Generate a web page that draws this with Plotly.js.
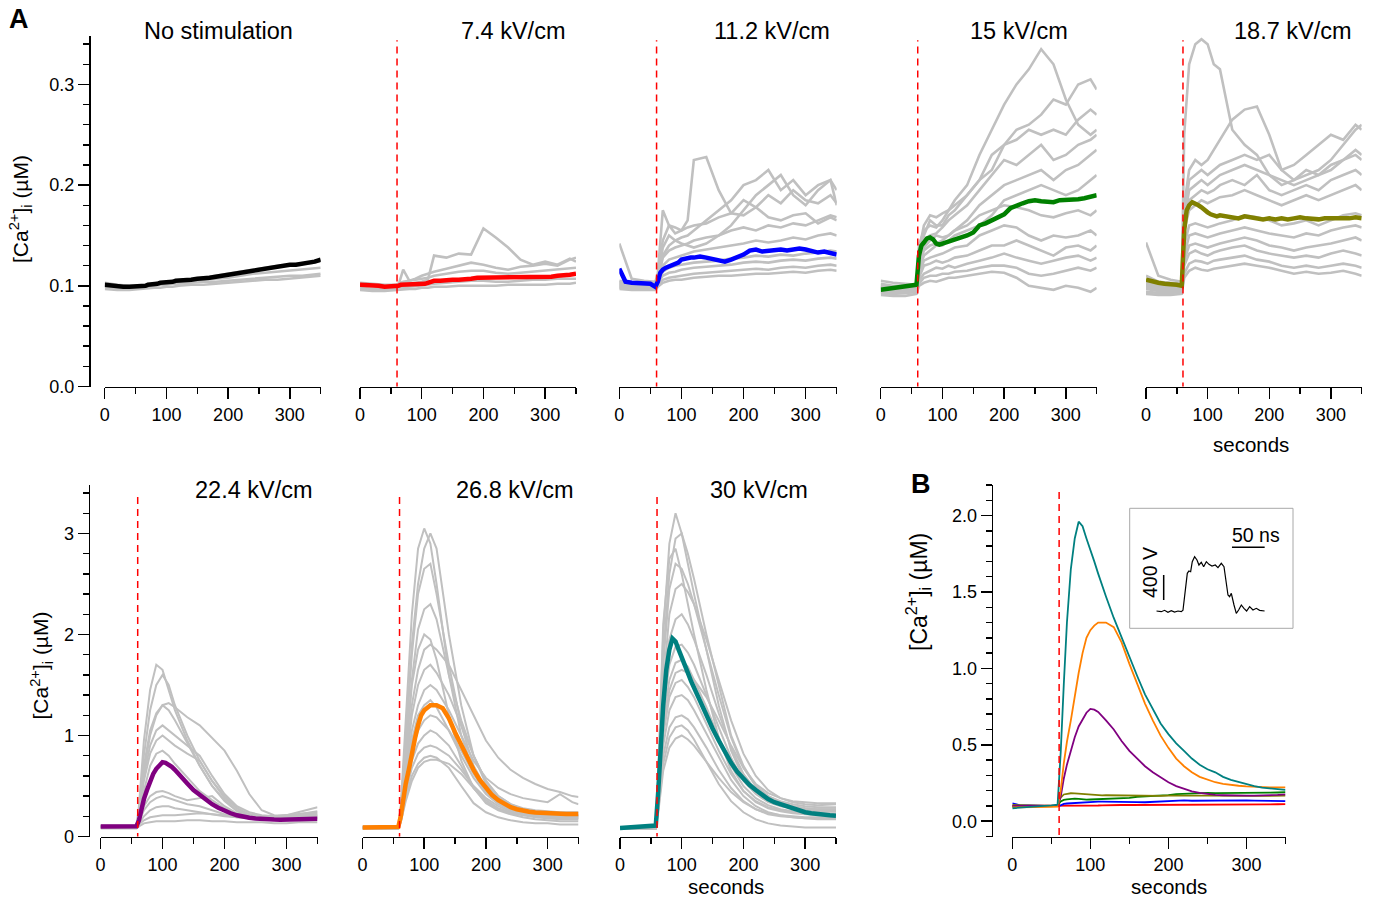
<!DOCTYPE html>
<html><head><meta charset="utf-8">
<script src="https://cdn.plot.ly/plotly-3.0.1.min.js"></script>
<style>html,body{margin:0;padding:0;background:#fff}#chart{width:1373px;height:897px}</style>
</head><body><div id="chart"></div>
<script>
// ---------------- DATA ----------------
const stimTime = 60; // seconds
const panelTitles = ['No stimulation','7.4 kV/cm','11.2 kV/cm','15 kV/cm','18.7 kV/cm','22.4 kV/cm','26.8 kV/cm','30 kV/cm'];

// time grid for mean traces (s)
const t = [0,10,20,30,40,50,
  58,62,66,70,75,80,85,90,95,100,105,110,115,120,
  130,140,150,160,170,180,190,200,210,220,230,240,250,260,270,280,290,300,310,320,330,340,350];
// time grid for individual (gray) cell traces (s)
const tg = [0,20,40,58, 62,70,80,90,100,110,120, 140,160,180,200,220,240,260,280,300,320,340, 350];

// mean [Ca2+]i (uM)
const meanNoStim = [0.101,0.100,0.100,0.099,0.099,0.099,
  0.099,0.100,0.100,0.101,0.101,0.102,0.102,0.103,0.103,0.104,0.104,0.104,0.105,0.105,
  0.106,0.106,0.107,0.107,0.108,0.109,0.110,0.111,0.112,0.113,0.114,0.116,0.117,0.118,0.119,0.119,0.120,0.121,0.121,0.122,0.122,0.124,0.126];
const mean7_4 = [0.101,0.101,0.100,0.100,0.099,0.099,
  0.100,0.100,0.101,0.101,0.101,0.101,0.101,0.101,0.101,0.102,0.102,0.103,0.104,0.105,
  0.105,0.106,0.106,0.106,0.106,0.107,0.108,0.108,0.108,0.108,0.108,0.108,0.108,0.108,0.108,0.109,0.109,0.109,0.109,0.110,0.110,0.111,0.112];
const mean11_2 = [0.117,0.104,0.103,0.103,0.103,0.102,
  0.099,0.104,0.113,0.116,0.118,0.119,0.121,0.122,0.123,0.126,0.127,0.128,0.128,0.128,
  0.129,0.128,0.127,0.125,0.124,0.126,0.128,0.131,0.135,0.136,0.134,0.135,0.135,0.136,0.135,0.136,0.137,0.136,0.135,0.133,0.134,0.133,0.131];
const mean15 = [0.096,0.097,0.098,0.098,0.099,0.100,
  0.101,0.130,0.140,0.143,0.147,0.148,0.146,0.142,0.141,0.142,0.143,0.144,0.145,0.145,
  0.147,0.150,0.153,0.160,0.162,0.165,0.168,0.171,0.177,0.180,0.182,0.184,0.185,0.184,0.184,0.183,0.185,0.185,0.186,0.186,0.187,0.188,0.190];
const mean18_7 = [0.106,0.104,0.103,0.102,0.102,0.101,
  0.100,0.155,0.175,0.180,0.183,0.182,0.180,0.178,0.175,0.173,0.171,0.170,0.169,0.170,
  0.169,0.168,0.167,0.169,0.168,0.167,0.166,0.167,0.166,0.167,0.166,0.167,0.168,0.167,0.166,0.166,0.167,0.167,0.166,0.166,0.167,0.168,0.167];
const mean22_4 = [0.100,0.099,0.100,0.101,0.100,0.101,
  0.102,0.160,0.280,0.370,0.460,0.550,0.620,0.670,0.710,0.735,0.730,0.715,0.690,0.660,
  0.600,0.525,0.460,0.410,0.360,0.320,0.285,0.255,0.230,0.210,0.195,0.185,0.178,0.172,0.170,0.168,0.167,0.167,0.168,0.168,0.170,0.172,0.175];
const mean26_8 = [0.090,0.090,0.091,0.092,0.093,0.094,
  0.095,0.200,0.380,0.520,0.660,0.830,0.970,1.100,1.200,1.250,1.280,1.300,1.300,1.300,
  1.270,1.170,1.030,0.900,0.770,0.660,0.560,0.480,0.410,0.360,0.320,0.290,0.270,0.255,0.245,0.237,0.232,0.228,0.225,0.223,0.222,0.222,0.222];
const mean30 = [0.085,0.088,0.092,0.096,0.100,0.104,
  0.108,0.450,0.900,1.300,1.650,1.850,1.960,1.930,1.850,1.780,1.700,1.620,1.540,1.470,
  1.330,1.200,1.070,0.950,0.830,0.730,0.640,0.570,0.510,0.460,0.410,0.370,0.340,0.320,0.290,0.270,0.255,0.240,0.230,0.220,0.215,0.210,0.205];

// individual cells (gray), on tg
const cellsNoStim = [
 [0.099,0.098,0.097,0.098, 0.098,0.099,0.100,0.101,0.101,0.102,0.102, 0.103,0.104,0.104,0.105,0.106,0.107,0.108,0.109,0.110,0.110,0.111, 0.112],
 [0.103,0.101,0.100,0.100, 0.100,0.101,0.101,0.102,0.103,0.104,0.104, 0.106,0.108,0.110,0.112,0.114,0.116,0.118,0.120,0.121,0.122,0.123, 0.125],
 [0.097,0.096,0.096,0.097, 0.097,0.097,0.098,0.098,0.099,0.099,0.100, 0.101,0.101,0.102,0.103,0.104,0.105,0.106,0.106,0.107,0.108,0.109, 0.110],
 [0.101,0.100,0.099,0.099, 0.099,0.100,0.100,0.101,0.102,0.103,0.103, 0.105,0.106,0.107,0.108,0.110,0.112,0.113,0.114,0.115,0.116,0.117, 0.118]
];
const cells7_4 = [
 [0.102,0.101,0.100,0.100, 0.101,0.102,0.102,0.103,0.104,0.106,0.130, 0.128,0.132,0.131,0.157,0.148,0.138,0.126,0.121,0.124,0.121,0.127, 0.124],
 [0.099,0.100,0.098,0.099, 0.100,0.116,0.105,0.107,0.110,0.112,0.114, 0.117,0.120,0.123,0.121,0.118,0.116,0.119,0.120,0.122,0.120,0.126, 0.128],
 [0.098,0.097,0.097,0.098, 0.098,0.099,0.099,0.100,0.100,0.101,0.102, 0.103,0.104,0.105,0.105,0.104,0.104,0.105,0.106,0.106,0.107,0.107, 0.107],
 [0.096,0.095,0.095,0.096, 0.096,0.096,0.097,0.097,0.098,0.098,0.099, 0.099,0.100,0.100,0.100,0.100,0.101,0.101,0.101,0.101,0.102,0.102, 0.103],
 [0.103,0.102,0.101,0.101, 0.102,0.104,0.105,0.106,0.107,0.108,0.110, 0.112,0.114,0.115,0.115,0.113,0.112,0.113,0.114,0.115,0.116,0.117, 0.118]
];
const cells11_2 = [
 [0.142,0.107,0.105,0.104, 0.112,0.175,0.160,0.152,0.155,0.165,0.225, 0.228,0.195,0.172,0.170,0.178,0.168,0.165,0.170,0.172,0.162,0.168, 0.165],
 [0.105,0.103,0.102,0.101, 0.108,0.130,0.140,0.145,0.148,0.150,0.155, 0.165,0.175,0.185,0.200,0.205,0.215,0.195,0.205,0.190,0.200,0.205, 0.180],
 [0.103,0.102,0.101,0.100, 0.110,0.145,0.160,0.158,0.155,0.158,0.160, 0.162,0.168,0.172,0.185,0.178,0.190,0.182,0.195,0.185,0.182,0.190, 0.182],
 [0.101,0.100,0.100,0.099, 0.106,0.128,0.135,0.138,0.140,0.142,0.145, 0.148,0.150,0.155,0.158,0.155,0.160,0.158,0.162,0.160,0.165,0.170, 0.168],
 [0.100,0.099,0.099,0.098, 0.104,0.120,0.126,0.128,0.130,0.132,0.134, 0.136,0.138,0.140,0.142,0.145,0.143,0.145,0.148,0.146,0.150,0.152, 0.150],
 [0.099,0.098,0.098,0.098, 0.103,0.114,0.118,0.120,0.121,0.122,0.123, 0.124,0.125,0.127,0.128,0.130,0.129,0.131,0.130,0.132,0.133,0.135, 0.134],
 [0.102,0.101,0.100,0.099, 0.103,0.110,0.113,0.114,0.116,0.117,0.118, 0.119,0.120,0.121,0.123,0.124,0.123,0.125,0.126,0.125,0.127,0.128, 0.127],
 [0.098,0.097,0.097,0.097, 0.100,0.106,0.108,0.109,0.110,0.111,0.112, 0.113,0.114,0.115,0.116,0.117,0.116,0.118,0.119,0.118,0.120,0.121, 0.120],
 [0.097,0.096,0.096,0.096, 0.099,0.103,0.105,0.106,0.106,0.107,0.108, 0.109,0.110,0.110,0.111,0.112,0.112,0.113,0.114,0.113,0.115,0.116, 0.115],
 [0.104,0.103,0.102,0.102, 0.108,0.138,0.150,0.145,0.142,0.140,0.138, 0.142,0.150,0.160,0.175,0.190,0.200,0.210,0.190,0.180,0.195,0.205, 0.195]
];
const cells15 = [
 [0.105,0.103,0.102,0.101, 0.140,0.155,0.160,0.158,0.165,0.175,0.185, 0.200,0.230,0.255,0.280,0.300,0.315,0.335,0.320,0.285,0.260,0.250, 0.255],
 [0.100,0.099,0.098,0.098, 0.125,0.150,0.165,0.160,0.160,0.170,0.175, 0.190,0.205,0.215,0.240,0.255,0.260,0.270,0.285,0.280,0.300,0.305, 0.295],
 [0.102,0.100,0.100,0.100, 0.135,0.160,0.170,0.168,0.172,0.175,0.180, 0.190,0.205,0.230,0.240,0.245,0.255,0.250,0.255,0.250,0.265,0.275, 0.270],
 [0.098,0.097,0.097,0.097, 0.125,0.145,0.150,0.152,0.158,0.165,0.170, 0.180,0.195,0.210,0.225,0.220,0.230,0.240,0.225,0.230,0.240,0.245, 0.250],
 [0.100,0.099,0.099,0.099, 0.120,0.135,0.140,0.142,0.145,0.150,0.155, 0.165,0.180,0.190,0.200,0.205,0.210,0.215,0.205,0.215,0.220,0.230, 0.235],
 [0.097,0.096,0.096,0.097, 0.115,0.130,0.135,0.140,0.140,0.145,0.150, 0.155,0.160,0.170,0.185,0.190,0.195,0.200,0.195,0.190,0.195,0.205, 0.210],
 [0.095,0.094,0.095,0.096, 0.110,0.125,0.128,0.130,0.132,0.135,0.138, 0.140,0.150,0.155,0.160,0.158,0.150,0.145,0.150,0.148,0.150,0.155, 0.150],
 [0.096,0.095,0.095,0.096, 0.108,0.120,0.122,0.125,0.123,0.125,0.128, 0.130,0.135,0.140,0.140,0.145,0.140,0.135,0.130,0.138,0.140,0.135, 0.140],
 [0.093,0.092,0.093,0.094, 0.105,0.112,0.115,0.118,0.117,0.120,0.118, 0.122,0.125,0.128,0.132,0.128,0.125,0.122,0.125,0.128,0.130,0.125, 0.128],
 [0.094,0.093,0.093,0.094, 0.102,0.108,0.110,0.110,0.112,0.112,0.114, 0.115,0.118,0.120,0.120,0.118,0.112,0.110,0.112,0.115,0.118,0.115, 0.118],
 [0.091,0.090,0.090,0.092, 0.100,0.103,0.105,0.104,0.106,0.108,0.108, 0.110,0.112,0.114,0.113,0.108,0.100,0.098,0.096,0.100,0.098,0.094, 0.098],
 [0.099,0.098,0.098,0.099, 0.118,0.138,0.145,0.150,0.148,0.150,0.155, 0.160,0.170,0.175,0.180,0.178,0.175,0.170,0.168,0.172,0.175,0.170, 0.175]
];
const cells18_7 = [
 [0.110,0.104,0.103,0.102, 0.250,0.320,0.340,0.345,0.340,0.320,0.315, 0.255,0.240,0.230,0.210,0.205,0.200,0.205,0.210,0.215,0.225,0.235, 0.230],
 [0.105,0.103,0.102,0.101, 0.180,0.215,0.225,0.220,0.225,0.235,0.245, 0.265,0.275,0.278,0.250,0.215,0.205,0.210,0.215,0.225,0.240,0.255, 0.260],
 [0.102,0.100,0.100,0.100, 0.170,0.205,0.210,0.215,0.210,0.215,0.220, 0.225,0.230,0.225,0.230,0.215,0.220,0.230,0.240,0.250,0.245,0.260, 0.255],
 [0.143,0.110,0.106,0.104, 0.165,0.195,0.200,0.205,0.200,0.205,0.210, 0.215,0.220,0.215,0.210,0.200,0.205,0.215,0.210,0.220,0.225,0.230, 0.225],
 [0.100,0.098,0.097,0.097, 0.160,0.185,0.190,0.195,0.192,0.195,0.200, 0.205,0.200,0.210,0.195,0.190,0.195,0.200,0.195,0.205,0.210,0.215, 0.210],
 [0.104,0.101,0.100,0.100, 0.155,0.175,0.180,0.185,0.182,0.185,0.188, 0.190,0.195,0.190,0.185,0.180,0.185,0.190,0.185,0.190,0.195,0.200, 0.195],
 [0.098,0.096,0.096,0.096, 0.140,0.160,0.162,0.160,0.158,0.160,0.162, 0.165,0.170,0.168,0.165,0.160,0.162,0.165,0.160,0.165,0.170,0.172, 0.170],
 [0.101,0.099,0.098,0.098, 0.130,0.150,0.152,0.150,0.148,0.150,0.152, 0.155,0.158,0.155,0.152,0.150,0.148,0.152,0.150,0.155,0.158,0.160, 0.158],
 [0.097,0.095,0.095,0.095, 0.125,0.140,0.142,0.140,0.138,0.140,0.142, 0.145,0.148,0.145,0.140,0.138,0.135,0.138,0.140,0.142,0.145,0.148, 0.145],
 [0.099,0.097,0.096,0.096, 0.120,0.132,0.135,0.132,0.130,0.133,0.135, 0.138,0.140,0.135,0.132,0.130,0.128,0.130,0.128,0.132,0.135,0.132, 0.130],
 [0.094,0.093,0.093,0.094, 0.112,0.122,0.125,0.124,0.122,0.125,0.126, 0.128,0.130,0.126,0.124,0.120,0.118,0.120,0.118,0.120,0.122,0.120, 0.118],
 [0.092,0.091,0.091,0.092, 0.108,0.115,0.118,0.116,0.115,0.117,0.118, 0.120,0.122,0.120,0.118,0.115,0.112,0.114,0.112,0.113,0.115,0.112, 0.110]
];
const cells22_4 = [
 [0.10,0.10,0.10,0.10, 0.30,0.95,1.45,1.70,1.65,1.45,1.25, 0.95,0.70,0.50,0.35,0.25,0.20,0.18,0.17,0.17,0.17,0.18, 0.18],
 [0.09,0.09,0.09,0.09, 0.25,0.80,1.25,1.50,1.60,1.50,1.30, 1.00,0.75,0.55,0.40,0.28,0.22,0.19,0.18,0.18,0.19,0.19, 0.19],
 [0.10,0.10,0.10,0.10, 0.22,0.65,1.00,1.20,1.30,1.32,1.28, 1.18,1.10,0.98,0.85,0.65,0.42,0.26,0.21,0.20,0.20,0.22, 0.23],
 [0.11,0.11,0.11,0.11, 0.24,0.70,1.05,1.22,1.30,1.25,1.15, 0.92,0.70,0.50,0.36,0.26,0.21,0.19,0.18,0.18,0.19,0.20, 0.21],
 [0.10,0.10,0.10,0.10, 0.20,0.60,0.90,1.05,1.10,1.05,1.00, 0.90,0.80,0.60,0.42,0.30,0.24,0.21,0.20,0.21,0.22,0.24, 0.25],
 [0.10,0.10,0.10,0.10, 0.20,0.55,0.82,0.95,1.00,0.95,0.90, 0.82,0.75,0.55,0.38,0.28,0.22,0.20,0.20,0.21,0.24,0.27, 0.29],
 [0.09,0.09,0.09,0.09, 0.18,0.45,0.70,0.82,0.85,0.80,0.72, 0.58,0.45,0.36,0.28,0.22,0.19,0.18,0.17,0.18,0.19,0.20, 0.20],
 [0.10,0.10,0.10,0.10, 0.15,0.30,0.40,0.44,0.45,0.43,0.40, 0.36,0.38,0.40,0.30,0.23,0.20,0.19,0.19,0.20,0.21,0.22, 0.22],
 [0.10,0.10,0.10,0.10, 0.14,0.26,0.34,0.38,0.40,0.38,0.36, 0.32,0.30,0.26,0.22,0.22,0.21,0.20,0.20,0.21,0.22,0.23, 0.24],
 [0.09,0.09,0.09,0.09, 0.13,0.20,0.26,0.29,0.30,0.30,0.28, 0.26,0.24,0.22,0.20,0.19,0.18,0.18,0.18,0.19,0.20,0.20, 0.21],
 [0.10,0.10,0.10,0.10, 0.12,0.16,0.19,0.20,0.21,0.21,0.21, 0.22,0.23,0.22,0.21,0.19,0.18,0.17,0.17,0.17,0.17,0.18, 0.18],
 [0.08,0.08,0.08,0.08, 0.10,0.13,0.14,0.15,0.15,0.15,0.15, 0.16,0.16,0.15,0.15,0.14,0.14,0.14,0.13,0.13,0.14,0.14, 0.14]
];
const cells26_8 = [
 [0.09,0.09,0.09,0.09, 0.30,1.20,2.20,2.85,3.05,2.90,2.50, 1.60,1.00,0.65,0.45,0.34,0.28,0.24,0.22,0.21,0.20,0.20, 0.20],
 [0.09,0.09,0.09,0.09, 0.25,1.00,1.90,2.50,2.85,3.00,2.85, 2.00,1.30,0.80,0.52,0.38,0.30,0.26,0.24,0.22,0.21,0.21, 0.21],
 [0.08,0.08,0.08,0.08, 0.25,0.95,1.80,2.40,2.65,2.70,2.40, 1.70,1.10,0.70,0.48,0.35,0.28,0.24,0.22,0.20,0.19,0.19, 0.19],
 [0.09,0.09,0.09,0.09, 0.22,0.85,1.55,2.05,2.25,2.30,2.15, 1.60,1.15,0.80,0.55,0.40,0.32,0.27,0.25,0.23,0.22,0.22, 0.22],
 [0.10,0.10,0.10,0.10, 0.20,0.70,1.30,1.65,1.85,1.90,1.85, 1.70,1.45,1.20,0.95,0.78,0.66,0.58,0.52,0.47,0.44,0.40, 0.39],
 [0.09,0.09,0.09,0.09, 0.20,0.65,1.20,1.50,1.65,1.70,1.62, 1.40,1.10,0.80,0.55,0.40,0.32,0.28,0.26,0.25,0.24,0.24, 0.24],
 [0.09,0.09,0.09,0.09, 0.18,0.60,1.05,1.30,1.45,1.50,1.45, 1.25,1.00,0.75,0.58,0.48,0.42,0.38,0.36,0.34,0.42,0.34, 0.32],
 [0.08,0.08,0.08,0.08, 0.18,0.55,0.95,1.20,1.30,1.35,1.28, 1.05,0.80,0.58,0.42,0.32,0.26,0.22,0.20,0.18,0.17,0.17, 0.17],
 [0.09,0.09,0.09,0.09, 0.17,0.50,0.85,1.05,1.15,1.20,1.18, 1.05,0.85,0.62,0.44,0.33,0.27,0.24,0.22,0.21,0.20,0.20, 0.20],
 [0.08,0.08,0.08,0.08, 0.16,0.45,0.75,0.92,1.00,1.05,1.02, 0.90,0.70,0.48,0.34,0.27,0.23,0.21,0.19,0.18,0.18,0.18, 0.18],
 [0.09,0.09,0.09,0.09, 0.15,0.42,0.68,0.82,0.88,0.90,0.88, 0.80,0.66,0.50,0.38,0.30,0.25,0.22,0.20,0.19,0.18,0.18, 0.18],
 [0.08,0.08,0.08,0.08, 0.14,0.38,0.60,0.72,0.78,0.80,0.78, 0.68,0.50,0.33,0.24,0.19,0.16,0.14,0.13,0.13,0.12,0.12, 0.12],
 [0.09,0.09,0.09,0.09, 0.22,0.80,1.50,1.85,2.00,1.95,1.75, 1.20,0.75,0.48,0.33,0.26,0.22,0.19,0.17,0.16,0.15,0.15, 0.15],
 [0.10,0.10,0.10,0.10, 0.14,0.35,0.55,0.68,0.74,0.76,0.76, 0.72,0.62,0.48,0.36,0.28,0.24,0.22,0.21,0.20,0.20,0.21, 0.21]
];
const cells30 = [
 [0.09,0.09,0.09,0.09, 0.60,2.00,2.90,3.20,3.00,2.70,2.40, 1.85,1.30,0.85,0.58,0.44,0.36,0.32,0.30,0.28,0.27,0.27, 0.27],
 [0.08,0.08,0.08,0.08, 0.55,1.80,2.60,2.95,3.00,2.80,2.55, 2.00,1.50,1.00,0.70,0.50,0.40,0.35,0.32,0.30,0.29,0.29, 0.29],
 [0.09,0.09,0.09,0.09, 0.50,1.70,2.45,2.70,2.65,2.50,2.30, 1.85,1.40,0.98,0.68,0.50,0.40,0.34,0.30,0.28,0.27,0.27, 0.27],
 [0.09,0.09,0.09,0.09, 0.45,1.50,2.20,2.45,2.50,2.42,2.30, 1.95,1.55,1.15,0.82,0.60,0.46,0.38,0.34,0.32,0.31,0.32, 0.32],
 [0.08,0.08,0.08,0.08, 0.40,1.40,1.95,2.15,2.20,2.10,1.95, 1.60,1.22,0.88,0.62,0.46,0.36,0.31,0.28,0.26,0.25,0.25, 0.25],
 [0.09,0.09,0.09,0.09, 0.38,1.25,1.70,1.88,1.90,1.82,1.70, 1.40,1.08,0.78,0.55,0.42,0.34,0.30,0.28,0.27,0.26,0.26, 0.26],
 [0.08,0.08,0.08,0.08, 0.35,1.15,1.55,1.72,1.75,1.68,1.55, 1.28,0.98,0.70,0.50,0.38,0.31,0.27,0.25,0.24,0.23,0.23, 0.23],
 [0.09,0.09,0.09,0.09, 0.32,1.00,1.38,1.52,1.55,1.48,1.38, 1.12,0.85,0.62,0.45,0.35,0.29,0.26,0.24,0.23,0.22,0.22, 0.22],
 [0.08,0.08,0.08,0.08, 0.30,0.90,1.25,1.38,1.40,1.35,1.25, 1.02,0.78,0.56,0.40,0.30,0.24,0.21,0.19,0.18,0.17,0.17, 0.17],
 [0.09,0.09,0.09,0.09, 0.28,0.80,1.08,1.18,1.20,1.16,1.08, 0.88,0.66,0.48,0.35,0.27,0.22,0.20,0.19,0.18,0.18,0.18, 0.18],
 [0.08,0.08,0.08,0.08, 0.26,0.72,0.98,1.08,1.10,1.05,0.96, 0.74,0.52,0.35,0.24,0.17,0.13,0.11,0.10,0.09,0.09,0.09, 0.09],
 [0.09,0.09,0.09,0.09, 0.24,0.65,0.88,0.97,1.00,0.96,0.90, 0.74,0.58,0.44,0.34,0.27,0.23,0.21,0.20,0.19,0.19,0.19, 0.19],
 [0.09,0.09,0.09,0.09, 0.60,2.10,2.75,2.85,2.60,2.30,2.00, 1.45,0.98,0.65,0.45,0.34,0.28,0.25,0.23,0.22,0.21,0.21, 0.21],
 [0.09,0.09,0.09,0.09, 0.30,1.05,1.45,1.62,1.65,1.62,1.55, 1.38,1.15,0.90,0.68,0.52,0.43,0.38,0.35,0.34,0.33,0.33, 0.33]
];

// inset: applied pulse (ns, V)
const pulseNs = [0,7.6,12.7,17.8,22.9,28,33.1,38.2,40.8,44.3,47.4,49.9,52.5,55,58.6,62.2,65.2,68.8,72.4,76.5,80.5,85.1,90.2,94.3,99.4,103.5,107,109.6,112.1,114.7,118.8,122.3,125.9,130,134,138.1,142.7,147.8,152.9,158,165.6];
const pulseV = [0,-11,11,-21,5,-16,0,-11,11,363,603,640,629,789,869,816,736,779,709,789,747,720,736,693,763,709,416,256,229,283,96,-37,16,96,43,0,69,16,43,11,0];
const scaleNs = 50;   // horizontal scale bar length (ns)
const scaleV = 400;   // vertical scale bar length (V)

// ---------------- STYLE / LAYOUT ----------------
const W = 1373, H = 897;
const PX = v => v / W, PY = v => (H - v) / H;
const FONT = 'Liberation Sans, Arial, Helvetica, sans-serif';
const GRAY = '#c0c0c0';
const means = [meanNoStim, mean7_4, mean11_2, mean15, mean18_7, mean22_4, mean26_8, mean30];
const cells = [cellsNoStim, cells7_4, cells11_2, cells15, cells18_7, cells22_4, cells26_8, cells30];
const colors = ['#000000','#ff0000','#0000ff','#008000','#808000','#800080','#ff8000','#008080'];

const geom = [
  {x0:104.7, x1:320.7, row:0, tx:218},
  {x0:360,   x1:576,   row:0, tx:513.3},
  {x0:619.3, x1:836.7, row:0, tx:771.7},
  {x0:880.7, x1:1096.7,row:0, tx:1018.8},
  {x0:1146,  x1:1361.7,row:0, tx:1293.3},
  {x0:100.5, x1:317.5, row:1, tx:253.8},
  {x0:362.5, x1:578.5, row:1, tx:515.4},
  {x0:620,   x1:836,   row:1, tx:759.2}
];
const rows = [
  {dom:[PY(386.5), PY(36.1)], range:[0, 0.348], ty:30.5, dash:[-0.003, 0.344], grayW:2.6},
  {dom:[PY(836.5), PY(485)],  range:[0, 3.48],  ty:489.5, dash:[-0.035, 3.41], grayW:2}
];

const tickFont = {family:FONT, size:18, color:'#000'};
function xAxis(domain, anchor, range, dtick, minor){
  return {domain, range, anchor, showline:true, linecolor:'#000', linewidth:1.5,
    ticks:'outside', ticklen:11, tickwidth:1.5, tickcolor:'#000',
    tickmode:'linear', tick0:0, dtick,
    minor:{dtick:minor, tick0:0, ticks:'outside', ticklen:6, tickwidth:1.5, tickcolor:'#000', showgrid:false},
    showgrid:false, zeroline:false, tickfont:tickFont, fixedrange:true};
}
function yAxis(domain, range, position, dtick, minor, fmt){
  return {domain, range, anchor:'free', position, side:'left', showline:true, linecolor:'#000', linewidth:1.5,
    ticks:'outside', ticklen:11, tickwidth:1.5, tickcolor:'#000',
    tickmode:'linear', tick0:0, dtick, tickformat:fmt,
    minor:{dtick:minor, tick0:0, ticks:'outside', ticklen:6, tickwidth:1.5, tickcolor:'#000', showgrid:false},
    showgrid:false, zeroline:false, tickfont:tickFont, fixedrange:true};
}

const layout = {width:W, height:H, margin:{l:0,r:0,t:0,b:0}, showlegend:false,
  paper_bgcolor:'#ffffff', plot_bgcolor:'rgba(0,0,0,0)', font:{family:FONT, color:'#000'},
  annotations:[], shapes:[]};
const traces = [];

geom.forEach((g, i) => {
  const n = i + 1;
  const xr = n === 1 ? 'x' : 'x' + n, yr = n === 1 ? 'y' : 'y' + n;
  const xk = n === 1 ? 'xaxis' : 'xaxis' + n, yk = n === 1 ? 'yaxis' : 'yaxis' + n;
  const r = rows[g.row];
  layout[xk] = xAxis([PX(g.x0), PX(g.x1)], yr, [0, 350], 100, 50);
  if (n === 1) {
    layout[yk] = yAxis(r.dom, r.range, PX(89), 0.1, 0.02, '.1f');
  } else if (n === 6) {
    layout[yk] = yAxis(r.dom, r.range, PX(88.5), 1, 0.2, 'd');
  } else {
    layout[yk] = {domain:r.dom, range:r.range, anchor:xr, visible:false, fixedrange:true};
  }
  cells[i].forEach(c => traces.push({x:tg, y:c, xaxis:xr, yaxis:yr, type:'scatter', mode:'lines',
    line:{color:GRAY, width:r.grayW}, hoverinfo:'skip'}));
  traces.push({x:t, y:means[i], xaxis:xr, yaxis:yr, type:'scatter', mode:'lines',
    line:{color:colors[i], width:4.5}, hoverinfo:'skip'});
  if (n !== 1) {
    layout.shapes.push({type:'line', xref:xr, yref:yr, x0:stimTime, x1:stimTime, y0:r.dash[0], y1:r.dash[1],
      line:{color:'#ff0000', width:1.5, dash:'7px,5px'}});
  }
  layout.annotations.push({text:panelTitles[i], xref:'paper', yref:'paper', x:PX(g.tx), y:PY(r.ty),
    xanchor:'center', yanchor:'middle', showarrow:false, font:{family:FONT, size:23.5, color:'#000'}});
});

// Panel B: all means overlaid
layout.xaxis9 = xAxis([PX(1012.3), PX(1285.5)], 'y9', [0, 350], 100, 50);
layout.yaxis9 = yAxis(rows[1].dom, [-0.1, 2.2], PX(991.7), 0.5, 0.1, '.1f');
[1,2,3,4,5,6,7].forEach(i => traces.push({x:t, y:means[i], xaxis:'x9', yaxis:'y9', type:'scatter', mode:'lines',
  line:{color:colors[i], width:1.8}, hoverinfo:'skip'}));
layout.shapes.push({type:'line', xref:'x9', yref:'y9', x0:stimTime, x1:stimTime, y0:-0.09, y1:2.167,
  line:{color:'#ff0000', width:1.5, dash:'7px,5px'}});

// Inset
layout.xaxis10 = {domain:[PX(1156.3), PX(1156.3 + 170*0.654)], range:[0,170], anchor:'y10', visible:false, fixedrange:true};
layout.yaxis10 = {domain:[PY(617.25), PY(542.25)], range:[-100,1100], anchor:'x10', visible:false, fixedrange:true};
traces.push({x:pulseNs, y:pulseV, xaxis:'x10', yaxis:'y10', type:'scatter', mode:'lines',
  line:{color:'#000', width:1.2}, hoverinfo:'skip'});
const hBarX0 = 115.7, hBarY = 1019, vBarX = 11.3, vBarY0 = 176;
traces.push({x:[hBarX0, hBarX0 + scaleNs], y:[hBarY, hBarY], xaxis:'x10', yaxis:'y10', type:'scatter', mode:'lines',
  line:{color:'#000', width:1.5}, hoverinfo:'skip'});
traces.push({x:[vBarX, vBarX], y:[vBarY0, vBarY0 + scaleV], xaxis:'x10', yaxis:'y10', type:'scatter', mode:'lines',
  line:{color:'#000', width:1.5}, hoverinfo:'skip'});
layout.shapes.push({type:'rect', xref:'paper', yref:'paper', x0:PX(1129.7), x1:PX(1293), y0:PY(628.3), y1:PY(508.3),
  line:{color:'#a8a8a8', width:1}, fillcolor:'rgba(0,0,0,0)'});

// labels
const ann = (text, x, y, size, extra) => layout.annotations.push(Object.assign({text, xref:'paper', yref:'paper',
  x:PX(x), y:PY(y), xanchor:'center', yanchor:'middle', showarrow:false, font:{family:FONT, size, color:'#000'}}, extra||{}));
const yLabel = '[Ca<sup>2+</sup>]<sub>i</sub> (µM)';
ann('<b>A</b>', 19, 19, 27);
ann('<b>B</b>', 921, 484, 27);
ann(yLabel, 20, 209, 21, {textangle:-90});
ann(yLabel, 40.5, 666, 21, {textangle:-90});
ann(yLabel, 917.5, 592.5, 23, {textangle:-90});
ann('seconds', 1251.3, 444, 20.5);
ann('seconds', 725.8, 886, 20.5);
ann('seconds', 1169.2, 886, 20.5);
ann('400 V', 1149.5, 572.5, 19.5, {textangle:-90});
ann('50 ns', 1256, 535.5, 19.5);

Plotly.newPlot('chart', traces, layout, {staticPlot:true, displayModeBar:false});
</script></body></html>
